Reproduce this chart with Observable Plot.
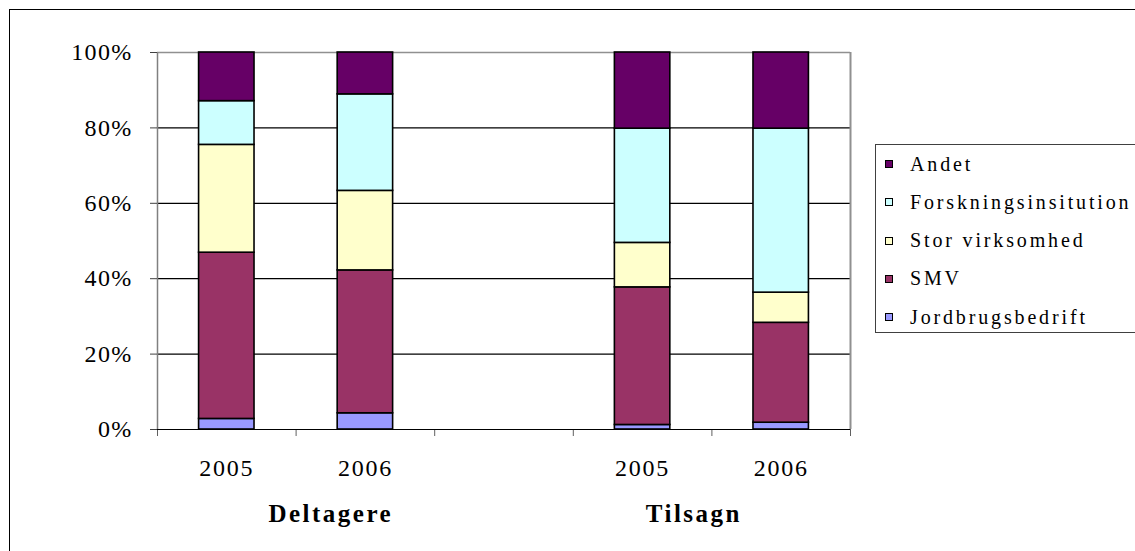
<!DOCTYPE html>
<html>
<head>
<meta charset="utf-8">
<script src="https://cdn.jsdelivr.net/npm/d3@7"></script>
<script src="https://cdn.jsdelivr.net/npm/@observablehq/plot@0.6"></script>
<style>
  html, body { margin: 0; padding: 0; background: #fff; }
  #wrap { position: relative; width: 1135px; height: 551px; overflow: hidden; font-family: "Times New Roman", Times, Tinos, "Liberation Serif", "Noto Serif", "DejaVu Serif", serif; }
  #border { position: absolute; left: 9px; top: 9px; width: 1200px; height: 600px; border: 1.5px solid #000; box-sizing: border-box; }
  #chart { position: absolute; left: 0; top: 0; }
  #legend { position: absolute; left: 875px; top: 144px; width: 300px; height: 189px; border: 1.5px solid #404040; box-sizing: border-box; background: #fff; }
  .item { position: absolute; left: 9px; height: 20px; display: flex; align-items: center; font-size: 20px; letter-spacing: 2.85px; color: #000; white-space: nowrap; }
  .sw { width: 6px; height: 6px; border: 1.5px solid #000; margin-right: 17px; flex: none; }
</style>
</head>
<body>
<div id="wrap">
  <div id="border"></div>
  <div id="chart"></div>
  <div id="legend"></div>
</div>
<script>
// ---- data ----
const groups = ["Deltagere", "Tilsagn"];
const years = ["2005", "2006"];
// series in stacking order (bottom to top)
const series = ["Jordbrugsbedrift", "SMV", "Stor virksomhed", "Forskningsinsitution", "Andet"];
const colors = ["#9999FF", "#993366", "#FFFFCC", "#CCFFFF", "#660066"];
// values per bar (Deltagere 2005, Deltagere 2006, Tilsagn 2005, Tilsagn 2006), percent
const jordbrugsbedrift = [2.8, 4.3, 1.2, 1.8];
const smv = [44.1, 37.9, 36.5, 26.5];
const storVirksomhed = [28.6, 21.1, 11.8, 8.0];
const forskningsinsitution = [11.6, 25.6, 30.3, 43.5];
const andet = [12.9, 11.1, 20.2, 20.2];
const yTicks = [0, 20, 40, 60, 80, 100];

const seriesValues = [jordbrugsbedrift, smv, storVirksomhed, forskningsinsitution, andet];
const FONT = '"Times New Roman", Times, Tinos, "Liberation Serif", "Noto Serif", "DejaVu Serif", serif';

// ---- layout ----
const slotsPerGroup = years.length + 1;   // one empty slot between groups
const half = 0.2;                          // half bar width in slot units
const groupLabelShift = [0.25, -0.13];     // label offset (slot units) as placed in the original

const bars = [];
groups.forEach((g, gi) => years.forEach((y, yi) => bars.push({group: g, year: y, slot: gi * slotsPerGroup + yi})));
const nSlots = groups.length * slotsPerGroup - 1;

const rows = [];
bars.forEach((b, bi) => {
  let acc = 0;
  series.forEach((s, si) => {
    const v = seriesValues[si][bi];
    rows.push({series: s, x1: b.slot - half, x2: b.slot + half, y1: acc, y2: acc + v});
    acc += v;
  });
});

const groupLabels = groups.map((g, gi) => ({group: g, slot: gi * slotsPerGroup + (years.length - 1) / 2 + groupLabelShift[gi]}));
const boundaries = d3.range(-0.5, nSlots, 1);

const plot = Plot.plot({
  width: 1135,
  height: 551,
  marginLeft: 157,
  marginRight: 285,
  marginTop: 52,
  marginBottom: 122,
  style: {fontFamily: FONT, fontSize: "24px", background: "transparent", overflow: "visible"},
  x: {domain: [-0.5, nSlots - 0.5], axis: null},
  y: {domain: [0, 100], axis: null},
  color: {domain: series, range: colors},
  marks: [
    Plot.ruleY(yTicks.filter(d => d > 0 && d < 100), {stroke: "#000", strokeWidth: 1.2}),
    Plot.ruleY([100], {stroke: "#909090", strokeWidth: 1.5}),
    Plot.ruleX([-0.5], {y1: 0, y2: 100, stroke: "#808080", strokeWidth: 1.5}),
    Plot.ruleX([nSlots - 0.5], {y1: 0, y2: 100, stroke: "#909090", strokeWidth: 2}),
    Plot.axisY({ticks: yTicks, tickFormat: d => d + "%", tickSize: 7, tickPadding: 18, stroke: "#404040", fill: "#000", fontSize: 24, fontFamily: FONT}),
    Plot.axisX({ticks: boundaries, tickFormat: () => "", tickSize: 7, stroke: "#606060"}),
    Plot.rectY(rows, {x1: "x1", x2: "x2", y1: "y1", y2: "y2", fill: "series", stroke: "#000", strokeWidth: 1.6}),
    Plot.ruleY([0], {stroke: "#000", strokeWidth: 1.2}),
    Plot.text(bars, {x: "slot", y: () => 0, text: "year", dy: 39, lineAnchor: "middle", fontSize: 24, fontFamily: FONT, fill: "#000"}),
    Plot.text(groupLabels, {x: "slot", y: () => 0, text: "group", dy: 84, lineAnchor: "middle", fontSize: 25, fontFamily: FONT, fontWeight: "bold", fill: "#000"})
  ]
});
document.getElementById("chart").appendChild(plot);

// character spacing like the original rendering
const svg = d3.select(plot);
svg.selectAll('g[aria-label="y-axis tick label"] text').style("letter-spacing", "1.3px");
svg.selectAll('g[aria-label="text"] text').each(function() {
  const t = d3.select(this);
  const bold = (t.attr("font-weight") || (this.parentNode && this.parentNode.getAttribute("font-weight"))) === "bold";
  t.style("letter-spacing", bold ? "2.5px" : "1.75px");
});

// legend (top entry = last series)
const legend = document.getElementById("legend");
const order = series.map((s, i) => i).reverse();
order.forEach((si, k) => {
  const div = document.createElement("div");
  div.className = "item";
  div.style.top = (9 + k * 38.3) + "px";
  const sw = document.createElement("span");
  sw.className = "sw";
  sw.style.background = colors[si];
  div.appendChild(sw);
  div.appendChild(document.createTextNode(series[si]));
  legend.appendChild(div);
});
</script>
</body>
</html>
